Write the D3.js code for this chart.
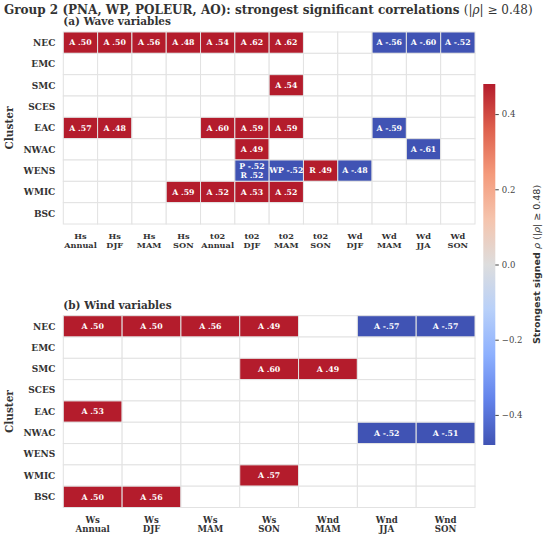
<!DOCTYPE html>
<html>
<head>
<meta charset="utf-8">
<script src="https://cdn.jsdelivr.net/npm/d3@7"></script>
<style>
  body { margin: 0; background: #fff; }
  svg { display: block; }
</style>
</head>
<body>
<svg id="chart"></svg>
<script>
// clusters (rows) shared by both panels
var clusters = ['NEC', 'EMC', 'SMC', 'SCES', 'EAC', 'NWAC', 'WENS', 'WMIC', 'BSC'];

// (a) wave variables
var waveCols = ['Hs\nAnnual', 'Hs\nDJF', 'Hs\nMAM', 'Hs\nSON', 't02\nAnnual', 't02\nDJF',
                't02\nMAM', 't02\nSON', 'Wd\nDJF', 'Wd\nMAM', 'Wd\nJJA', 'Wd\nSON'];
var waveValues = [
  [0.50, 0.50, 0.56, 0.48, 0.54, 0.62, 0.62, null, null, -0.56, -0.60, -0.52],
  [null, null, null, null, null, null, null, null, null, null, null, null],
  [null, null, null, null, null, null, 0.54, null, null, null, null, null],
  [null, null, null, null, null, null, null, null, null, null, null, null],
  [0.57, 0.48, null, null, 0.60, 0.59, 0.59, null, null, -0.59, null, null],
  [null, null, null, null, null, 0.49, null, null, null, null, -0.61, null],
  [null, null, null, null, null, -0.52, -0.52, 0.49, -0.48, null, null, null],
  [null, null, null, 0.59, 0.52, 0.53, 0.52, null, null, null, null, null],
  [null, null, null, null, null, null, null, null, null, null, null, null]
];
var waveLabels = [
  ['A .50', 'A .50', 'A .56', 'A .48', 'A .54', 'A .62', 'A .62', '', '', 'A -.56', 'A -.60', 'A -.52'],
  ['', '', '', '', '', '', '', '', '', '', '', ''],
  ['', '', '', '', '', '', 'A .54', '', '', '', '', ''],
  ['', '', '', '', '', '', '', '', '', '', '', ''],
  ['A .57', 'A .48', '', '', 'A .60', 'A .59', 'A .59', '', '', 'A -.59', '', ''],
  ['', '', '', '', '', 'A .49', '', '', '', '', 'A -.61', ''],
  ['', '', '', '', '', 'P -.52\nR .52', 'WP -.52', 'R .49', 'A -.48', '', '', ''],
  ['', '', '', 'A .59', 'A .52', 'A .53', 'A .52', '', '', '', '', ''],
  ['', '', '', '', '', '', '', '', '', '', '', '']
];

// (b) wind variables
var windCols = ['Ws\nAnnual', 'Ws\nDJF', 'Ws\nMAM', 'Ws\nSON', 'Wnd\nMAM', 'Wnd\nJJA', 'Wnd\nSON'];
var windValues = [
  [0.50, 0.50, 0.56, 0.49, null, -0.57, -0.57],
  [null, null, null, null, null, null, null],
  [null, null, null, 0.60, 0.49, null, null],
  [null, null, null, null, null, null, null],
  [0.53, null, null, null, null, null, null],
  [null, null, null, null, null, -0.52, -0.51],
  [null, null, null, null, null, null, null],
  [null, null, null, 0.57, null, null, null],
  [0.50, 0.56, null, null, null, null, null]
];
var windLabels = [
  ['A .50', 'A .50', 'A .56', 'A .49', '', 'A -.57', 'A -.57'],
  ['', '', '', '', '', '', ''],
  ['', '', '', 'A .60', 'A .49', '', ''],
  ['', '', '', '', '', '', ''],
  ['A .53', '', '', '', '', '', ''],
  ['', '', '', '', '', 'A -.52', 'A -.51'],
  ['', '', '', '', '', '', ''],
  ['', '', '', 'A .57', '', '', ''],
  ['A .50', 'A .56', '', '', '', '', '']
];

var cbTicks = [-0.4, -0.2, 0.0, 0.2, 0.4];
var vmax = 0.48;

// coolwarm approximation
var coolwarmStops = ['#4053b4', '#6282ea', '#8db0fe', '#b8d0f9', '#dddddd',
                     '#f5c4ad', '#f49a7b', '#de604d', '#b41c2c'];
var cw = d3.scaleLinear()
  .domain(d3.range(coolwarmStops.length).map(function(i){ return i / (coolwarmStops.length - 1); }))
  .range(coolwarmStops)
  .interpolate(d3.interpolateRgb);
var colorVal = d3.scaleLinear().domain([-vmax, vmax]).range([0, 1]).clamp(true);

var W = 550, H = 539;
var serif = '"DejaVu Serif", serif';
var svg = d3.select('#chart').attr('width', W).attr('height', H)
  .style('font-family', serif);

// title
var title = svg.append('text').attr('x', 4).attr('y', 13.5)
  .attr('font-size', 12).attr('fill', '#333');
title.append('tspan').attr('font-weight', 'bold')
  .text('Group 2 (PNA, WP, POLEUR, AO): strongest significant correlations ');
title.append('tspan').text('(|');
title.append('tspan').attr('font-style', 'italic').text('ρ');
title.append('tspan').text('| ≥ 0.48)');

function drawPanel(opts) {
  var g = svg.append('g');
  var x = d3.scaleBand().domain(d3.range(opts.cols.length)).range([opts.x0, opts.x1]);
  var y = d3.scaleBand().domain(clusters).range([opts.y0, opts.y1]);

  g.append('text').attr('x', opts.x0).attr('y', opts.y0 - 7)
    .attr('font-size', 10.5).attr('font-weight', 'bold').attr('fill', '#333')
    .text(opts.subtitle);

  var cells = [];
  clusters.forEach(function(c, r){
    opts.cols.forEach(function(col, j){
      cells.push({ r: c, c: j, v: opts.values[r][j], lab: opts.labels[r][j] });
    });
  });

  g.selectAll('rect.cell').data(cells).enter().append('rect')
    .attr('class', 'cell')
    .attr('x', function(d){ return x(d.c); })
    .attr('y', function(d){ return y(d.r); })
    .attr('width', x.bandwidth())
    .attr('height', y.bandwidth())
    .attr('fill', function(d){ return d.v == null ? '#fff' : cw(colorVal(d.v)); })
    .attr('stroke', '#e2e2e2')
    .attr('stroke-width', 1);

  var lab = g.selectAll('text.lab').data(cells.filter(function(d){ return d.lab; }))
    .enter().append('text')
    .attr('class', 'lab')
    .attr('text-anchor', 'middle')
    .attr('font-size', 7.8).attr('font-weight', 'bold').attr('fill', '#fff');
  lab.each(function(d){
    var lines = d.lab.split('\n');
    var cx = x(d.c) + x.bandwidth() / 2;
    var cy = y(d.r) + y.bandwidth() / 2;
    var t = d3.select(this);
    lines.forEach(function(s, i){
      t.append('tspan').attr('x', cx)
        .attr('y', cy + 2.8 + (i - (lines.length - 1) / 2) * 8.6)
        .text(s);
    });
  });

  // y axis labels
  g.selectAll('text.ylab').data(clusters).enter().append('text')
    .attr('class', 'ylab')
    .attr('x', opts.x0 - 8)
    .attr('y', function(d){ return y(d) + y.bandwidth() / 2 + 3.2; })
    .attr('text-anchor', 'end')
    .attr('font-size', 9).attr('font-weight', 'bold').attr('fill', '#333')
    .text(function(d){ return d; });

  // x axis labels
  var xl = g.selectAll('text.xlab').data(opts.cols).enter().append('text')
    .attr('class', 'xlab')
    .attr('text-anchor', 'middle')
    .attr('font-size', opts.xfs).attr('font-weight', 'bold').attr('fill', '#333');
  xl.each(function(d, j){
    var t = d3.select(this);
    d.split('\n').forEach(function(s, i){
      t.append('tspan').attr('x', x(j) + x.bandwidth() / 2)
        .attr('y', opts.y1 + 15 + i * opts.xls).text(s);
    });
  });

  // "Cluster" label
  g.append('text')
    .attr('transform', 'translate(13,' + ((opts.y0 + opts.y1) / 2) + ') rotate(-90)')
    .attr('text-anchor', 'middle')
    .attr('font-size', 10.5).attr('font-weight', 'bold').attr('fill', '#333')
    .text('Cluster');
}

drawPanel({ cols: waveCols, values: waveValues, labels: waveLabels,
  x0: 63.3, x1: 475, y0: 32, y1: 224, subtitle: '(a) Wave variables', xfs: 8.2, xls: 9 });
drawPanel({ cols: windCols, values: windValues, labels: windLabels,
  x0: 63.3, x1: 475, y0: 315.7, y1: 507.5, subtitle: '(b) Wind variables', xfs: 8.6, xls: 9.5 });

// colorbar
var cbX = 483.3, cbW = 12, cbTop = 84, cbBot = 445;
var defs = svg.append('defs');
var grad = defs.append('linearGradient').attr('id', 'cbgrad')
  .attr('x1', 0).attr('y1', 1).attr('x2', 0).attr('y2', 0);
coolwarmStops.forEach(function(c, i){
  grad.append('stop').attr('offset', (i / (coolwarmStops.length - 1) * 100) + '%').attr('stop-color', c);
});
svg.append('rect').attr('x', cbX).attr('y', cbTop).attr('width', cbW).attr('height', cbBot - cbTop)
  .attr('fill', 'url(#cbgrad)');

var cbScale = d3.scaleLinear().domain([-vmax, vmax]).range([cbBot, cbTop]);
var cbAxis = svg.append('g').attr('transform', 'translate(' + (cbX + cbW) + ',0)')
  .call(d3.axisRight(cbScale).tickValues(cbTicks).tickFormat(d3.format('.1f')).tickSize(3.5).tickPadding(3));
cbAxis.select('.domain').remove();
cbAxis.selectAll('line').attr('stroke', '#444');
cbAxis.selectAll('text').attr('font-family', serif).attr('font-size', 8.5).attr('fill', '#444');

var cbLab = svg.append('text')
  .attr('transform', 'translate(540,' + ((cbTop + cbBot) / 2) + ') rotate(-90)')
  .attr('text-anchor', 'middle')
  .attr('font-family', '"DejaVu Sans", sans-serif')
  .attr('font-size', 9.5).attr('fill', '#333');
cbLab.append('tspan').attr('font-weight', 'bold').text('Strongest signed ');
cbLab.append('tspan').attr('font-style', 'italic').text('ρ');
cbLab.append('tspan').text(' (|');
cbLab.append('tspan').attr('font-style', 'italic').text('ρ');
cbLab.append('tspan').text('| ≥ 0.48)');
</script>
</body>
</html>
